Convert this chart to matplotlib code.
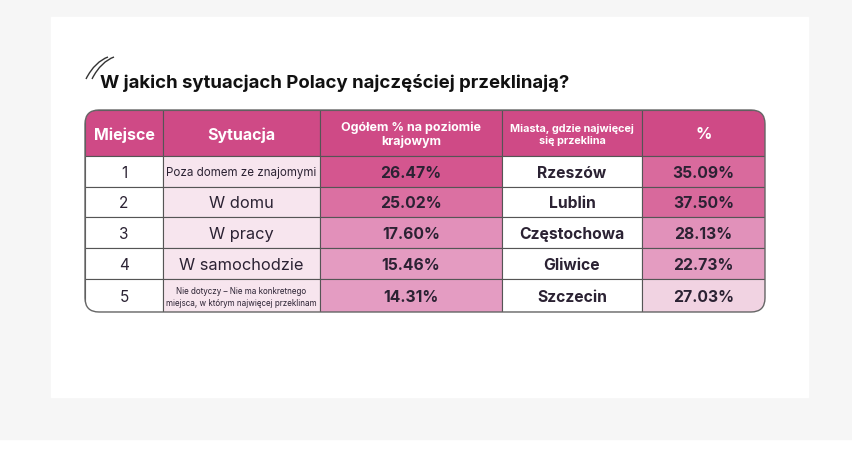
import matplotlib.pyplot as plt
from matplotlib.patches import Rectangle, FancyBboxPatch
from matplotlib.path import Path
from matplotlib.patches import PathPatch

# Dane
miejsca = ["1", "2", "3", "4", "5"]
sytuacje = ["Poza domem ze znajomymi", "W domu", "W pracy", "W samochodzie",
            "Nie dotyczy – Nie ma konkretnego\nmiejsca, w którym najwięcej przeklinam"]
ogolem = [26.47, 25.02, 17.60, 15.46, 14.31]
miasta = ["Rzeszów", "Lublin", "Częstochowa", "Gliwice", "Szczecin"]
miasta_proc = [35.09, 37.50, 28.13, 22.73, 27.03]
naglowki = ["Miejsce", "Sytuacja", "Ogółem % na poziomie\nkrajowym",
            "Miasta, gdzie najwięcej\nsię przeklina", "%"]

# Kolory
C_HEAD = "#cf4a86"
C_SYT = "#f7e5ee"
C_TXT = "#2b2233"
kol_ogolem = ["#d4568f", "#db70a2", "#e290ba", "#e49bc1", "#e49cc2"]
kol_miasta = ["#d96a9d", "#d8699c", "#e191ba", "#e49cc1", "#f1d3e2"]

FONT = ["Inter", "DejaVu Sans"]

fig = plt.figure(figsize=(8.52, 4.52), dpi=100)
ax = fig.add_axes([0, 0, 1, 1])
ax.set_xlim(0, 852)
ax.set_ylim(452, 0)
ax.axis("off")

# tło
ax.add_patch(Rectangle((0, 0), 852, 440, color="#f6f6f6", zorder=0))
ax.add_patch(Rectangle((51, 18), 757, 380, color="white", zorder=1))

# ozdobne kreski przy tytule
for dx in (0, 6):
    verts = [(86 + dx, 80), (92 + dx, 68), (100 + dx, 61), (108 + dx, 58)]
    ax.add_patch(PathPatch(Path(verts, [Path.MOVETO, Path.CURVE4, Path.CURVE4, Path.CURVE4]),
                           fill=False, lw=1.0, ec="#333333", zorder=3))

ax.text(100, 88, "W jakich sytuacjach Polacy najczęściej przeklinają?",
        fontsize=13.4, fontweight="bold", color="#111111", family=FONT,
        ha="left", va="baseline", zorder=3)

# geometria tabeli
xs = [85, 163, 320, 502, 642, 765]
ys = [111, 157, 188, 218, 249, 280, 313]

clip = FancyBboxPatch((xs[0], ys[0]), xs[-1] - xs[0], ys[-1] - ys[0],
                      boxstyle="round,pad=0,rounding_size=14",
                      fc="none", ec="#666666", lw=1.0, zorder=6)
ax.add_patch(clip)

def komorka(c, r, fc):
    p = Rectangle((xs[c], ys[r]), xs[c + 1] - xs[c], ys[r + 1] - ys[r],
                  fc=fc, ec="#555555", lw=0.8, zorder=4)
    ax.add_patch(p)
    p.set_clip_path(clip)

def srodek(c, r):
    return (xs[c] + xs[c + 1]) / 2, (ys[r] + ys[r + 1]) / 2 + 1

# nagłówek
head_sizes = [11.5, 11.5, 9.0, 7.8, 11.5]
for c, txt in enumerate(naglowki):
    komorka(c, 0, C_HEAD)
    x, y = srodek(c, 0)
    ax.text(x, y, txt, ha="center", va="center", color="white",
            fontsize=head_sizes[c], fontweight="bold", family=FONT,
            linespacing=1.15, zorder=7)

# wiersze
for i in range(len(miejsca)):
    r = i + 1
    komorka(0, r, "white")
    komorka(1, r, C_SYT)
    komorka(2, r, kol_ogolem[i])
    komorka(3, r, "white")
    komorka(4, r, kol_miasta[i])

    x, y = srodek(0, r)
    ax.text(x, y, miejsca[i], ha="center", va="center", fontsize=11,
            color=C_TXT, family=FONT, zorder=7)

    x, y = srodek(1, r)
    if i == 0:
        fs = 8.3
    elif "\n" in sytuacje[i]:
        fs = 5.8
    else:
        fs = 11.8
    ax.text(x, y, sytuacje[i], ha="center", va="center", fontsize=fs,
            color=C_TXT, family=FONT, linespacing=1.4, zorder=7)

    x, y = srodek(2, r)
    ax.text(x, y, f"{ogolem[i]:.2f}%", ha="center", va="center", fontsize=11.3,
            fontweight="bold", color=C_TXT, family=FONT, zorder=7)

    x, y = srodek(3, r)
    ax.text(x, y, miasta[i], ha="center", va="center", fontsize=11.3,
            fontweight="bold", color=C_TXT, family=FONT, zorder=7)

    x, y = srodek(4, r)
    ax.text(x, y, f"{miasta_proc[i]:.2f}%", ha="center", va="center", fontsize=11.3,
            fontweight="bold", color=C_TXT, family=FONT, zorder=7)

fig.savefig("out.png", dpi=100, facecolor="white")
